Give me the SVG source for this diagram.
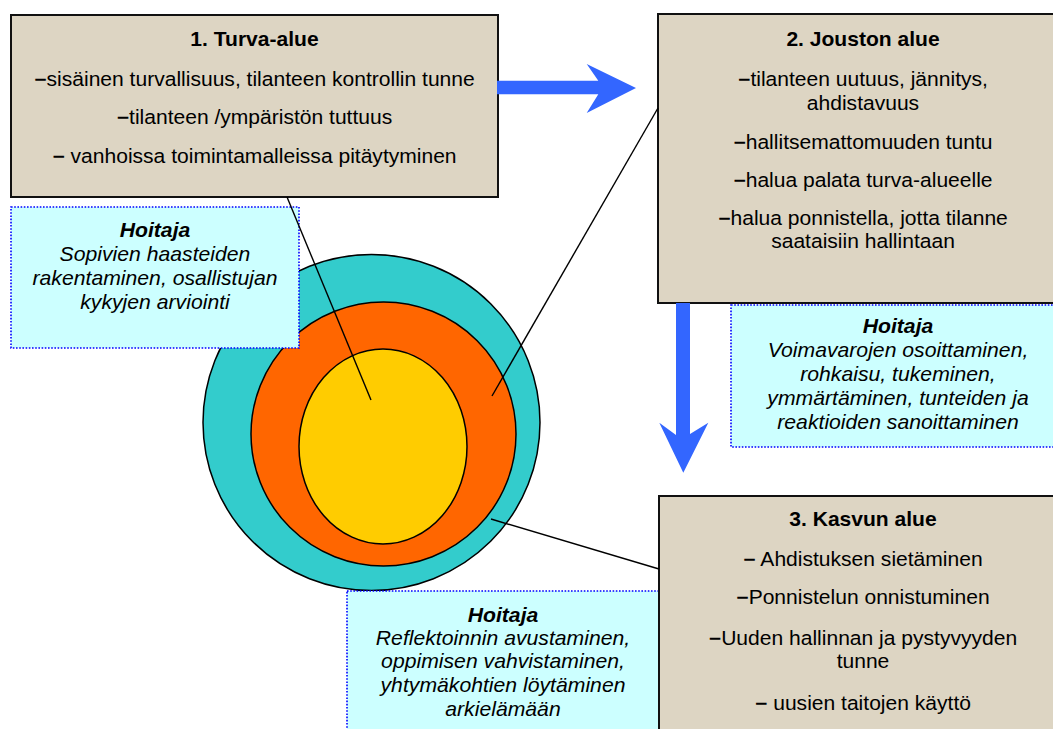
<svg xmlns="http://www.w3.org/2000/svg" width="1053" height="729" viewBox="0 0 1053 729">
<style>
.box{fill:#DDD5C3;stroke:#111;stroke-width:2}
.hb{fill:#CCFFFF;stroke:#0000FF;stroke-width:1.6;stroke-dasharray:1.6 1.6}
.t{font-family:"Liberation Sans",Arial,sans-serif;font-size:19.5px;fill:#000;text-anchor:middle}
.tb{font-weight:bold}
.h{font-family:"Liberation Sans",Arial,sans-serif;font-size:20px;font-style:italic;fill:#000;text-anchor:middle}
.d{font-weight:bold}
.conn{stroke:#000;stroke-width:1.4;fill:none}
.arr{fill:#3366FF}
</style>
<rect width="1053" height="729" fill="#fff"/>
<g id="circles">
<ellipse cx="371.5" cy="422.5" rx="168.5" ry="168" fill="#33CCCC" stroke="#000" stroke-width="1.5"/>
<ellipse cx="383.5" cy="434" rx="132.5" ry="132" fill="#FF6600" stroke="#000" stroke-width="1.5"/>
<ellipse cx="383" cy="446.5" rx="84" ry="97.5" fill="#FFCC00" stroke="#000" stroke-width="1.5"/>
</g>
<g id="box1">
<rect class="box" x="11" y="15" width="487" height="182"/>
<g transform="matrix(1.08 0 0 1 -20.36 0)">
<text class="t tb" x="254.5" y="46">1. Turva-alue</text>
<text class="t" x="254.5" y="86"><tspan class="d">−</tspan>sisäinen turvallisuus, tilanteen kontrollin tunne</text>
<text class="t" x="254.5" y="124"><tspan class="d">−</tspan>tilanteen /ympäristön tuttuus</text>
<text class="t" x="254.5" y="163"><tspan class="d">−</tspan> vanhoissa toimintamalleissa pitäytyminen</text>
</g>
</g>
<g id="box2">
<rect class="box" x="658" y="14" width="420" height="289"/>
<g transform="matrix(1.08 0 0 1 -69.04 0)">
<text class="t tb" x="863" y="46.5">2. Jouston alue</text>
<text class="t" x="863" y="86.5"><tspan class="d">−</tspan>tilanteen uutuus, jännitys,</text>
<text class="t" x="863" y="110">ahdistavuus</text>
<text class="t" x="863" y="149"><tspan class="d">−</tspan>hallitsemattomuuden tuntu</text>
<text class="t" x="863" y="187"><tspan class="d">−</tspan>halua palata turva-alueelle</text>
<text class="t" x="863" y="225"><tspan class="d">−</tspan>halua ponnistella, jotta tilanne</text>
<text class="t" x="863" y="248">saataisiin hallintaan</text>
</g>
</g>
<g id="hoitaja1">
<rect class="hb" x="11" y="207" width="288" height="141"/>
<g transform="matrix(1.06 0 0 1 -9.3 0)">
<text class="h" x="155" y="237" font-weight="bold">Hoitaja</text>
<text class="h" x="155" y="261">Sopivien haasteiden</text>
<text class="h" x="155" y="285">rakentaminen, osallistujan</text>
<text class="h" x="155" y="309">kykyjen arviointi</text>
</g>
</g>
<g id="hoitaja2">
<rect class="hb" x="731" y="305" width="340" height="142"/>
<g transform="matrix(1.06 0 0 1 -53.88 0)">
<text class="h" x="898" y="333.5" font-weight="bold">Hoitaja</text>
<text class="h" x="898" y="357.5">Voimavarojen osoittaminen,</text>
<text class="h" x="898" y="381.5">rohkaisu, tukeminen,</text>
<text class="h" x="898" y="405.5">ymmärtäminen, tunteiden ja</text>
<text class="h" x="898" y="429.5">reaktioiden sanoittaminen</text>
</g>
</g>
<g id="hoitaja3">
<rect class="hb" x="347" y="591" width="320" height="150"/>
<g transform="matrix(1.06 0 0 1 -30.18 0)">
<text class="h" x="503" y="621.7" font-weight="bold">Hoitaja</text>
<text class="h" x="503" y="645">Reflektoinnin avustaminen,</text>
<text class="h" x="503" y="668.5">oppimisen vahvistaminen,</text>
<text class="h" x="503" y="692">yhtymäkohtien löytäminen</text>
<text class="h" x="503" y="716">arkielämään</text>
</g>
</g>
<g id="box3">
<rect class="box" x="659" y="496" width="420" height="250"/>
<g transform="matrix(1.08 0 0 1 -69.04 0)">
<text class="t tb" x="863" y="526">3. Kasvun alue</text>
<text class="t" x="863" y="566"><tspan class="d">−</tspan> Ahdistuksen sietäminen</text>
<text class="t" x="863" y="604"><tspan class="d">−</tspan>Ponnistelun onnistuminen</text>
<text class="t" x="863" y="645"><tspan class="d">−</tspan>Uuden hallinnan ja pystyvyyden</text>
<text class="t" x="863" y="668">tunne</text>
<text class="t" x="863" y="710"><tspan class="d">−</tspan> uusien taitojen käyttö</text>
</g>
</g>
<g id="connectors">
<line class="conn" x1="287" y1="197" x2="371" y2="400"/>
<line class="conn" x1="658" y1="108" x2="492" y2="396"/>
<line class="conn" x1="491" y1="519" x2="659" y2="569"/>
<polygon class="arr" points="497,80.7 598.3,80.7 586.7,64 636,88 586.7,113 598.3,94.3 497,94.3"/>
<polygon class="arr" points="676,303 690,303 690,434 708.3,422.7 683.3,472.7 659.3,422.7 676,435"/>
</g>
</svg>
